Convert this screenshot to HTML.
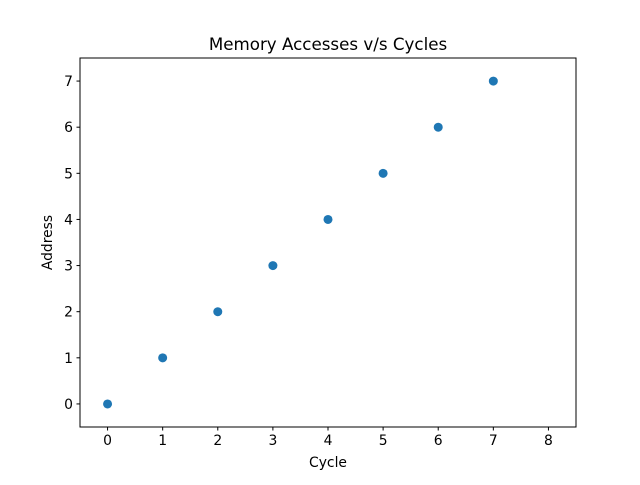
<!DOCTYPE html>
<html><head><meta charset="utf-8"><style>
body{margin:0;background:#fff}
svg text{font-family:"DejaVu Sans","Liberation Sans",sans-serif;fill:#000}
</style></head><body>
<svg id="chart" width="640" height="480">
<rect x="0" y="0" width="640" height="480" fill="#fff"/>
<text x="328" y="50" font-size="16.7" text-anchor="middle">Memory Accesses v/s Cycles</text>
<g id="marks"></g>
<g id="axes"></g>
<rect x="80" y="58" width="496" height="369" fill="none" stroke="#000" stroke-width="1"/>
<text x="328" y="467" font-size="13.9" text-anchor="middle">Cycle</text>
<text x="52" y="242.5" font-size="13.9" text-anchor="middle" transform="rotate(-90 52 242.5)">Address</text>
</svg>
<script>
const cycles=[0,1,2,3,4,5,6,7];
const addresses=[0,1,2,3,4,5,6,7];
const xTicks=[0,1,2,3,4,5,6,7,8];
const yTicks=[0,1,2,3,4,5,6,7];
const NS='http://www.w3.org/2000/svg';
const L=80,R=576,T=58,B=427,xmin=-0.5,xmax=8.5,ymin=-0.5,ymax=7.5;
function sx(v){return L+(v-xmin)/(xmax-xmin)*(R-L);}
function sy(v){return B-(v-ymin)/(ymax-ymin)*(B-T);}
function mk(t,a){const e=document.createElementNS(NS,t);for(const k in a)e.setAttribute(k,a[k]);return e;}
const axes=document.getElementById('axes'),marks=document.getElementById('marks');
xTicks.forEach(v=>{
 const l=mk('line',{x1:sx(v),x2:sx(v),y1:B,y2:B+3.5,stroke:'#000'});
 
 
 axes.appendChild(l);
 const t=mk('text',{x:sx(v),y:B+18,'font-size':13.9,'text-anchor':'middle'});
 
 
 t.textContent=v;axes.appendChild(t);
});
yTicks.forEach(v=>{
 const l=mk('line',{x1:L-3.5,x2:L,y1:sy(v),y2:sy(v),stroke:'#000'});
 
 
 axes.appendChild(l);
 const t=mk('text',{x:L-7,y:sy(v)+5,'font-size':13.9,'text-anchor':'end'});
 
 
 t.textContent=v;axes.appendChild(t);
});
cycles.forEach((c,i)=>{
 const p=mk('circle',{cx:sx(c),cy:sy(addresses[i]),r:4.5,fill:'#1f77b4'});
 
 
 marks.appendChild(p);
});
</script>
</body></html>
